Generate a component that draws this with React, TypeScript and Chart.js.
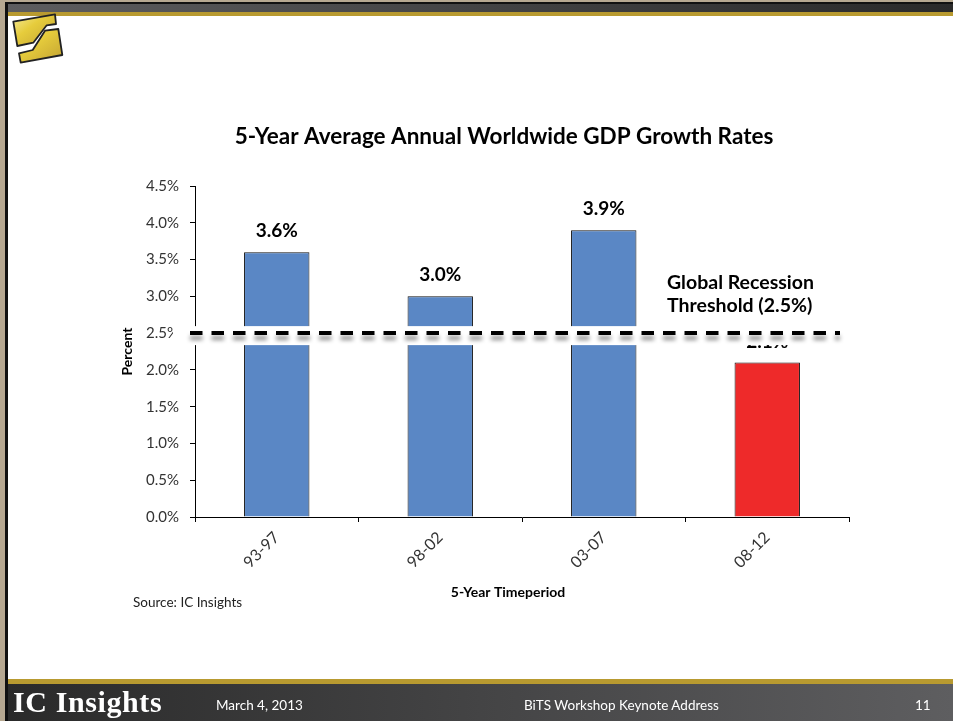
import React, { useEffect, useRef } from "react";
import { Chart, registerables } from "chart.js";

Chart.register(...registerables);

// ---- data ----
const periods = ["93-97", "98-02", "03-07", "08-12"];
const growth = [3.6, 3.0, 3.9, 2.1];
const barColors = ["#5a87c5", "#5a87c5", "#5a87c5", "#ee2a2a"];
const yMin = 0;
const yMax = 4.5;
const yStep = 0.5;
const threshold = 2.5;
const thresholdLines = ["Global Recession", "Threshold (2.5%)"];
const chartTitle = "5-Year Average Annual Worldwide GDP Growth Rates";
const xTitle = "5-Year Timeperiod";
const yTitle = "Percent";
const sourceNote = "Source: IC Insights";
const footerBrand = "IC Insights";
const footerDate = "March 4, 2013";
const footerEvent = "BiTS Workshop Keynote Address";
const footerPage = "11";

const FONT = "Lato, 'Open Sans', sans-serif";

const slidePlugin = {
  id: "slideAnnotations",
  afterDatasetsDraw(chart: any) {
    const { ctx } = chart;
    const meta = chart.getDatasetMeta(0);
    ctx.save();
    ctx.font = `bold 19px ${FONT}`;
    ctx.fillStyle = "#000";
    ctx.textAlign = "center";
    ctx.textBaseline = "middle";
    meta.data.forEach((bar: any, i: number) => {
      ctx.fillText(growth[i].toFixed(1) + "%", bar.x, bar.y - 21);
    });
    ctx.restore();
  },
  afterDraw(chart: any) {
    const { ctx, chartArea, scales } = chart;
    const y = scales.y.getPixelForValue(threshold);
    ctx.save();
    // white band behind the threshold line
    ctx.fillStyle = "#ffffff";
    ctx.fillRect(chartArea.left - 22, y - 7, chartArea.right - chartArea.left + 18, 19);
    // dashed threshold line with soft shadow
    ctx.shadowColor = "rgba(0,0,0,0.45)";
    ctx.shadowBlur = 4;
    ctx.shadowOffsetY = 5;
    ctx.strokeStyle = "#000";
    ctx.lineWidth = 4;
    ctx.setLineDash([12.5, 9]);
    ctx.beginPath();
    ctx.moveTo(chartArea.left - 5, y);
    ctx.lineTo(chartArea.right - 9, y);
    ctx.stroke();
    ctx.restore();

    ctx.save();
    ctx.fillStyle = "#000";
    ctx.font = `bold 19.5px ${FONT}`;
    ctx.textAlign = "left";
    ctx.textBaseline = "middle";
    thresholdLines.forEach((t, i) => {
      ctx.fillText(t, chartArea.left + 472, y - 50 + i * 23);
    });
    // chart title
    ctx.textAlign = "center";
    ctx.font = `bold 22.5px ${FONT}`;
    ctx.fillText(chartTitle, chartArea.left + 309, chartArea.top - 49);
    // x-axis title
    ctx.font = `bold 14px ${FONT}`;
    ctx.fillText(xTitle, chartArea.left + 313, chartArea.bottom + 75);
    // source note
    ctx.textAlign = "left";
    ctx.font = `13.5px ${FONT}`;
    ctx.fillStyle = "#222";
    ctx.fillText(sourceNote, chartArea.left - 62, chartArea.bottom + 86);
    ctx.restore();
  },
};

function GdpChart() {
  const ref = useRef<HTMLCanvasElement | null>(null);
  useEffect(() => {
    if (!ref.current) return;
    const chart = new Chart(ref.current, {
      type: "bar",
      data: {
        labels: periods,
        datasets: [
          {
            data: growth,
            backgroundColor: barColors,
            borderColor: "#111",
            borderWidth: 1,
            categoryPercentage: 1,
            barPercentage: 0.4,
          },
        ],
      },
      options: {
        responsive: false,
        maintainAspectRatio: false,
        animation: false,
        layout: { padding: { left: 119, right: 104, top: 186, bottom: 154 } },
        plugins: {
          legend: { display: false },
          tooltip: { enabled: false },
          title: { display: false },
        },
        scales: {
          x: {
            grid: { drawOnChartArea: false, tickLength: 5, color: "#000", offset: true },
            border: { color: "#000", width: 1 },
            ticks: {
              maxRotation: 45,
              minRotation: 45,
              font: { family: FONT, size: 16 },
              color: "#333",
              padding: 6,
            },
            afterFit: (s: any) => {
              s.height = 50;
            },
          },
          y: {
            min: yMin,
            max: yMax,
            grid: { drawOnChartArea: false, tickLength: 5, color: "#000" },
            border: { color: "#000", width: 1 },
            ticks: {
              stepSize: yStep,
              callback: (v: any) => Number(v).toFixed(1) + "%",
              font: { family: FONT, size: 15 },
              color: "#333",
              padding: 11,
            },
            title: {
              display: true,
              text: yTitle,
              font: { family: FONT, size: 14, weight: "bold" },
              color: "#000",
              padding: 0,
            },
            afterFit: (s: any) => {
              s.width = 76;
            },
          },
        },
      },
      plugins: [slidePlugin],
    });
    return () => chart.destroy();
  }, []);
  return (
    <canvas
      ref={ref}
      width={953}
      height={721}
      style={{ position: "absolute", left: 0, top: 0, width: 953, height: 721 }}
    />
  );
}

function Logo() {
  return (
    <svg width={70} height={70} style={{ position: "absolute", left: 0, top: 0 }}>
      <defs>
        <linearGradient id="lg" x1="0" y1="0" x2="1" y2="1">
          <stop offset="0" stopColor="#f5ea9a" />
          <stop offset="0.4" stopColor="#e6cc3c" />
          <stop offset="1" stopColor="#c2a232" />
        </linearGradient>
      </defs>
      <polygon
        points="13.3,21.7 55,14.3 56,24 46.7,25.3 33.3,42.7 17.3,46"
        fill="url(#lg)"
        stroke="#222"
        strokeWidth={1.8}
        strokeLinejoin="round"
      />
      <polygon
        points="45,30.7 58.3,29 62.3,55 20.7,62.7 19,53.3 32.7,50"
        fill="url(#lg)"
        stroke="#222"
        strokeWidth={1.8}
        strokeLinejoin="round"
      />
    </svg>
  );
}

export default function App() {
  const footText: React.CSSProperties = {
    position: "absolute",
    color: "#fff",
    fontFamily: FONT,
    fontSize: 13.5,
    top: 696,
    lineHeight: "18px",
    whiteSpace: "nowrap",
  };
  return (
    <div
      style={{
        position: "fixed",
        left: 0,
        top: 0,
        width: 953,
        height: 721,
        background: "#fff",
        overflow: "hidden",
      }}
    >
      {/* frame */}
      <div style={{ position: "absolute", left: 0, top: 0, width: 953, height: 2, background: "#b6a891" }} />
      <div style={{ position: "absolute", left: 0, top: 0, width: 5, height: 721, background: "#b6a891" }} />
      <div style={{ position: "absolute", left: 5, top: 2, width: 948, height: 2, background: "#111" }} />
      <div style={{ position: "absolute", left: 5, top: 2, width: 3, height: 719, background: "#111" }} />
      <div
        style={{
          position: "absolute",
          left: 8,
          top: 4,
          width: 945,
          height: 8,
          background: "linear-gradient(to right, #5d5d5f, #2a2a2a)",
        }}
      />
      <div style={{ position: "absolute", left: 8, top: 12, width: 945, height: 4, background: "#b89a30" }} />
      <div style={{ position: "absolute", left: 8, top: 679, width: 945, height: 5, background: "#b89a30" }} />
      <div
        style={{
          position: "absolute",
          left: 8,
          top: 684,
          width: 945,
          height: 37,
          background: "linear-gradient(to right, #2a2a2a, #5e5e60)",
        }}
      />
      <Logo />
      <GdpChart />
      <div
        style={{
          ...footText,
          left: 13,
          top: 686,
          fontFamily: "'Liberation Serif', 'Times New Roman', serif",
          fontWeight: "bold",
          fontSize: 30,
          letterSpacing: 0.6,
          lineHeight: "32px",
        }}
      >
        {footerBrand}
      </div>
      <div style={{ ...footText, left: 216 }}>{footerDate}</div>
      <div style={{ ...footText, left: 524 }}>{footerEvent}</div>
      <div style={{ ...footText, left: 915 }}>{footerPage}</div>
    </div>
  );
}
